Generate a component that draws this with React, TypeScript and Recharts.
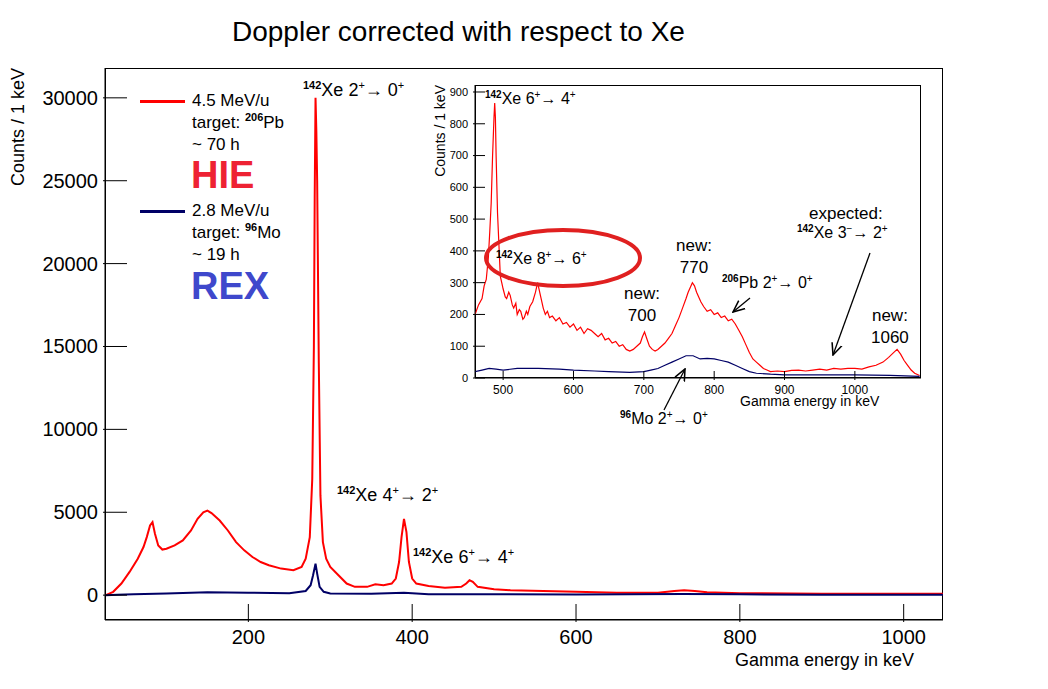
import React from "react";
import { LineChart, Line, XAxis, YAxis } from "recharts";

const redMain = [
  [26, 0], [35, 200], [45, 700], [55, 1400], [65, 2200], [72, 2900], [76, 3500], [80, 4200], [83, 4400], [86, 3700], [90, 3000], [95, 2750], [100, 2800], [110, 3000], [120, 3300], [130, 3900], [138, 4600], [145, 5000], [150, 5100], [155, 4950], [165, 4500], [175, 3900], [185, 3200], [195, 2700], [205, 2300], [215, 2000], [225, 1800], [240, 1600], [255, 1500], [265, 1700], [270, 2200], [275, 3500], [278, 7000], [280, 15000], [281, 24000], [282, 30000], [283, 28000], [284, 25000], [286, 14000], [288, 6000], [291, 3200], [295, 2200], [300, 1700], [310, 1200], [320, 700], [330, 500], [345, 500], [355, 650], [365, 600], [375, 700], [380, 1000], [384, 2000], [387, 3500], [390, 4600], [393, 3800], [396, 2000], [400, 1000], [405, 700], [420, 550], [440, 450], [460, 500], [466, 700], [470, 900], [474, 800], [480, 500], [500, 350], [520, 300], [560, 250], [600, 200], [650, 150], [700, 150], [720, 250], [732, 300], [745, 250], [760, 180], [800, 120], [900, 80], [1000, 80], [1048, 80],
];
const blueMain = [
  [26, 0], [40, 30], [60, 60], [100, 100], [150, 180], [200, 150], [250, 120], [270, 250], [276, 600], [279, 1200], [282, 1900], [284, 1300], [287, 500], [292, 200], [300, 100], [350, 80], [390, 150], [420, 60], [500, 50], [600, 40], [730, 70], [800, 50], [900, 30], [1048, 20],
];
const redInset = [
  [460, 200], [465, 230], [470, 250], [473, 290], [476, 310], [479, 380], [481, 460], [483, 550], [485, 700], [487, 820], [488, 865], [489, 820], [490, 700], [492, 520], [494, 420], [496, 320], [498, 300], [500, 280], [503, 255], [505, 250], [508, 270], [510, 260], [513, 230], [515, 220], [518, 235], [520, 200], [523, 215], [525, 210], [528, 185], [530, 190], [533, 210], [535, 200], [538, 225], [542, 240], [546, 270], [549, 300], [551, 280], [554, 250], [557, 220], [560, 200], [563, 210], [566, 190], [570, 195], [575, 180], [580, 190], [585, 170], [590, 175], [595, 160], [600, 170], [605, 150], [610, 160], [615, 140], [620, 155], [625, 150], [630, 140], [635, 130], [640, 140], [645, 120], [650, 125], [655, 110], [660, 115], [665, 100], [670, 105], [675, 90], [680, 85], [685, 90], [690, 100], [695, 110], [698, 130], [701, 145], [704, 125], [708, 100], [712, 90], [716, 85], [720, 90], [725, 100], [730, 110], [735, 125], [740, 140], [745, 165], [750, 190], [755, 220], [760, 250], [763, 270], [766, 285], [769, 300], [772, 290], [775, 270], [778, 255], [781, 240], [785, 225], [790, 210], [795, 215], [800, 200], [805, 205], [810, 190], [815, 195], [820, 180], [825, 185], [830, 170], [835, 150], [840, 130], [845, 105], [850, 80], [855, 60], [860, 50], [865, 40], [870, 30], [875, 25], [880, 20], [890, 22], [900, 20], [910, 24], [920, 25], [930, 22], [940, 25], [950, 28], [960, 25], [970, 30], [980, 28], [990, 30], [1000, 30], [1010, 28], [1020, 35], [1030, 40], [1040, 50], [1048, 65], [1055, 80], [1060, 90], [1065, 75], [1070, 55], [1075, 40], [1080, 25], [1085, 15], [1092, 8],
];
const blueInset = [
  [460, 20], [470, 25], [480, 30], [490, 28], [500, 25], [520, 30], [550, 30], [580, 28], [600, 25], [630, 22], [650, 20], [680, 18], [700, 20], [710, 25], [720, 30], [730, 40], [740, 50], [750, 60], [760, 70], [770, 70], [780, 60], [790, 62], [800, 60], [810, 55], [820, 50], [830, 40], [840, 30], [850, 20], [860, 15], [880, 12], [900, 10], [950, 10], [1000, 10], [1050, 8], [1092, 5],
];

const mainXTicks = [200, 400, 600, 800, 1000];
const mainYTicks = [0, 5000, 10000, 15000, 20000, 25000, 30000];
const insetXTicks = [500, 600, 700, 800, 900, 1000];
const insetYTicks = [0, 100, 200, 300, 400, 500, 600, 700, 800, 900];

const toPts = (a: number[][]) => a.map(([x, y]) => ({ x, y }));
const RED = "#ff0000";
const BLUE = "#000066";
const FONT = "Liberation Sans, Arial, sans-serif";

const XTick = ({ x, y, payload, len, fs }: any) => (
  <g>
    <line x1={x} x2={x} y1={y} y2={y - len} stroke="#000" />
    <text x={x} y={y + fs + 2} textAnchor="middle" fontSize={fs} fontFamily={FONT}>{payload.value}</text>
  </g>
);
const YTick = ({ x, y, payload, len, fs }: any) => (
  <g>
    <line x1={x} x2={x + len} y1={y} y2={y} stroke="#000" />
    <text x={x - 5} y={y + fs * 0.35} textAnchor="end" fontSize={fs} fontFamily={FONT}>{payload.value}</text>
  </g>
);

const abs = (l: number, t: number, extra: any = {}) => ({ position: "absolute" as const, left: l, top: t, fontFamily: FONT, whiteSpace: "nowrap" as const, ...extra });
const supB = (s: string, f: number) => <sup style={{ fontSize: f, fontWeight: "bold", lineHeight: 0 }}>{s}</sup>;
const sup = (s: string, f: number) => <sup style={{ fontSize: f, lineHeight: 0 }}>{s}</sup>;

export default function App() {
  return (
    <div style={{ position: "relative", width: 1048, height: 689, margin: -8, background: "#fff", overflow: "hidden" }}>
      <div style={{ position: "absolute", left: 105, top: 68, width: 838, height: 552, border: "1px solid #000", boxSizing: "border-box" }} />
      <LineChart width={1048} height={689} margin={{ top: 68, right: 105, left: 45, bottom: 39 }} style={{ position: "absolute", left: 0, top: 0 }}>
        <XAxis type="number" dataKey="x" domain={[25, 1048]} ticks={mainXTicks} allowDataOverflow height={30} tickLine={false} tickSize={0} axisLine={{ stroke: "#000" }} tick={<XTick len={18} fs={20} />} />
        <YAxis type="number" dataKey="y" domain={[-1500, 31800]} ticks={mainYTicks} allowDataOverflow width={60} tickLine={false} tickSize={0} axisLine={{ stroke: "#000" }} tick={<YTick len={24} fs={20} />} />
        <Line data={toPts(redMain)} dataKey="y" stroke={RED} strokeWidth={2} dot={false} isAnimationActive={false} type="linear" />
        <Line data={toPts(blueMain)} dataKey="y" stroke={BLUE} strokeWidth={2} dot={false} isAnimationActive={false} type="linear" />
      </LineChart>

      <div style={abs(232, 16, { fontSize: 28 })}>Doppler corrected with respect to Xe</div>
      <div style={abs(8, 68, { fontSize: 18, transform: "rotate(-90deg) translateX(-100%)", transformOrigin: "0 0" })}>Counts / 1 keV</div>
      <div style={abs(735, 650, { fontSize: 18 })}>Gamma energy in keV</div>

      {/* legend */}
      <div style={{ position: "absolute", left: 140, top: 100, width: 45, height: 3, background: RED }} />
      <div style={abs(192, 90, { fontSize: 17, lineHeight: "22px" })}>4.5 MeV/u<br />target: {supB("206", 11)}Pb<br />~ 70 h</div>
      <div style={abs(191, 158, { fontSize: 38, lineHeight: "34px", fontWeight: "bold", color: "#ee2233" })}>HIE</div>
      <div style={{ position: "absolute", left: 140, top: 210, width: 45, height: 3, background: BLUE }} />
      <div style={abs(192, 200, { fontSize: 17, lineHeight: "22px" })}>2.8 MeV/u<br />target: {supB("96", 11)}Mo<br />~ 19 h</div>
      <div style={abs(191, 269, { fontSize: 38, lineHeight: "34px", fontWeight: "bold", color: "#3f48cc" })}>REX</div>

      {/* main annotations */}
      <div style={abs(303, 80, { fontSize: 18 })}>{supB("142", 11)}Xe 2{sup("+", 11)}→ 0{sup("+", 11)}</div>
      <div style={abs(337, 485, { fontSize: 18 })}>{supB("142", 11)}Xe 4{sup("+", 11)}→ 2{sup("+", 11)}</div>
      <div style={abs(413, 547, { fontSize: 18 })}>{supB("142", 11)}Xe 6{sup("+", 11)}→ 4{sup("+", 11)}</div>

      {/* inset */}
      <div style={{ position: "absolute", left: 475, top: 85, width: 446, height: 293, border: "1px solid #000", boxSizing: "border-box", background: "#fff" }} />
      <LineChart width={1048} height={689} margin={{ top: 85, right: 127, left: 435, bottom: 291 }} style={{ position: "absolute", left: 0, top: 0 }}>
        <XAxis type="number" dataKey="x" domain={[460, 1094]} ticks={insetXTicks} allowDataOverflow height={20} tickLine={false} tickSize={0} axisLine={{ stroke: "#000" }} tick={<XTick len={9} fs={12} />} />
        <YAxis type="number" dataKey="y" domain={[0, 922]} ticks={insetYTicks} allowDataOverflow width={40} tickLine={false} tickSize={0} axisLine={{ stroke: "#000" }} tick={<YTick len={12} fs={11} />} />
        <Line data={toPts(redInset)} dataKey="y" stroke={RED} strokeWidth={1.2} dot={false} isAnimationActive={false} type="linear" />
        <Line data={toPts(blueInset)} dataKey="y" stroke={BLUE} strokeWidth={1.2} dot={false} isAnimationActive={false} type="linear" />
      </LineChart>
      <div style={abs(432, 85, { fontSize: 14, transform: "rotate(-90deg) translateX(-100%)", transformOrigin: "0 0" })}>Counts / 1 keV</div>
      <div style={abs(740, 393, { fontSize: 14 })}>Gamma energy in keV</div>

      <div style={abs(485, 90, { fontSize: 16 })}>{supB("142", 10)}Xe 6{sup("+", 10)}→ 4{sup("+", 10)}</div>
      <div style={abs(496, 250, { fontSize: 16 })}>{supB("142", 10)}Xe 8{sup("+", 10)}→ 6{sup("+", 10)}</div>
      <div style={abs(624, 283, { fontSize: 17, textAlign: "center", lineHeight: "22px" })}>new:<br />700</div>
      <div style={abs(676, 235, { fontSize: 17, textAlign: "center", lineHeight: "22px" })}>new:<br />770</div>
      <div style={abs(722, 274, { fontSize: 16 })}>{supB("206", 10)}Pb 2{sup("+", 10)}→ 0{sup("+", 10)}</div>
      <div style={abs(809, 204, { fontSize: 17 })}>expected:</div>
      <div style={abs(797, 224, { fontSize: 16 })}>{supB("142", 10)}Xe 3{sup("−", 10)}→ 2{sup("+", 10)}</div>
      <div style={abs(871, 305, { fontSize: 17, textAlign: "center", lineHeight: "22px" })}>new:<br />1060</div>
      <div style={abs(620, 410, { fontSize: 16 })}>{supB("96", 10)}Mo 2{sup("+", 10)}→ 0{sup("+", 10)}</div>

      <svg width={1048} height={689} style={{ position: "absolute", left: 0, top: 0, pointerEvents: "none" }}>
        <defs>
          <marker id="ah" markerWidth="10" markerHeight="10" refX="9" refY="5" orient="auto">
            <path d="M0,1 L9,5 L0,9" fill="none" stroke="#000" strokeWidth="1.2" />
          </marker>
        </defs>
        <ellipse cx={563} cy={258} rx={77} ry={28} fill="none" stroke="#e02020" strokeWidth={4} />
        <line x1={750} y1={298} x2={733} y2={312} stroke="#000" strokeWidth={1.3} markerEnd="url(#ah)" />
        <line x1={870} y1={253} x2={833} y2={355} stroke="#000" strokeWidth={1.3} markerEnd="url(#ah)" />
        <line x1={664} y1={410} x2={685} y2={369} stroke="#000" strokeWidth={1.3} markerEnd="url(#ah)" />
      </svg>
    </div>
  );
}
